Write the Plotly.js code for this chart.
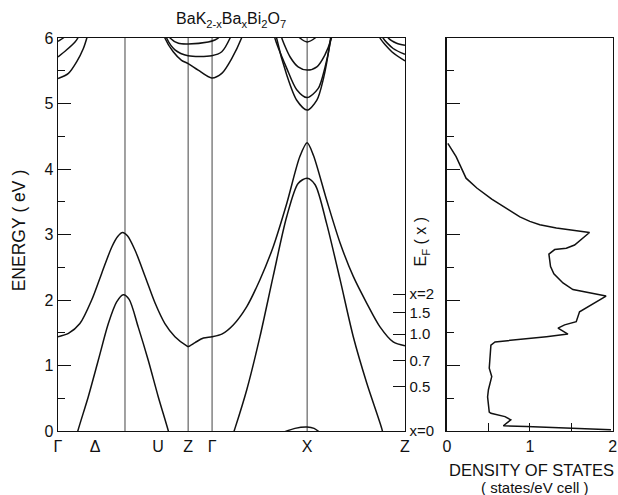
<!DOCTYPE html>
<html>
<head>
<meta charset="utf-8">
<script src="https://cdn.plot.ly/plotly-3.0.1.min.js"></script>
<style>html,body{margin:0;padding:0;background:#fff}#chart{width:618px;height:495px}</style>
</head>
<body>
<div id="chart"></div>
<script>
// ---- data (k in units of the Γ..Z path, 0..1; energies in eV) ----
const symLabels = ['Γ', 'Δ', 'U', 'Z', 'Γ', 'X', 'Z'];
const symLabelK = [0, 0.107, 0.288, 0.375, 0.444, 0.718, 1.0];
const symLinesK = [0.193, 0.375, 0.444, 0.718];

const bandA_k = [0, 0.030, 0.063, 0.097, 0.126, 0.155, 0.172, 0.186, 0.200, 0.222, 0.251, 0.280, 0.308, 0.337, 0.371, 0.375, 0.395, 0.419, 0.444, 0.472, 0.505, 0.544, 0.582, 0.620, 0.659, 0.697, 0.718, 0.736, 0.774, 0.813, 0.851, 0.890, 0.928, 0.966, 1.0];
const bandA_E = [1.44, 1.49, 1.64, 2.00, 2.41, 2.81, 2.97, 3.03, 2.98, 2.76, 2.36, 1.95, 1.64, 1.44, 1.30, 1.29, 1.35, 1.42, 1.44, 1.48, 1.62, 1.90, 2.31, 2.81, 3.47, 4.19, 4.40, 4.21, 3.53, 2.87, 2.36, 1.95, 1.59, 1.36, 1.30];

const bandB_k = [0.045, 0.057, 0.087, 0.116, 0.145, 0.169, 0.188, 0.205, 0.231, 0.260, 0.289, 0.318, 0.330];
const bandB_E = [-0.25, 0.0, 0.52, 1.08, 1.64, 1.97, 2.08, 2.01, 1.59, 1.08, 0.52, 0.0, -0.25];

const bandC_k = [0.501, 0.510, 0.544, 0.582, 0.620, 0.659, 0.692, 0.718, 0.741, 0.774, 0.813, 0.851, 0.890, 0.933, 0.939];
const bandC_E = [-0.10, 0.04, 0.63, 1.44, 2.36, 3.27, 3.78, 3.86, 3.76, 3.17, 2.31, 1.44, 0.73, 0.04, -0.10];

const bandD_k = [0.654, 0.683, 0.718, 0.738, 0.752];
const bandD_E = [-0.01, 0.04, 0.06, 0.04, -0.01];

// conduction bands near the top of the window
const upper = [
  {k: [0, 0.030, 0.054, 0.073, 0.083, 0.088], E: [5.38, 5.46, 5.64, 5.84, 6.0, 6.1]},
  {k: [0, 0.025, 0.049, 0.057, 0.061], E: [5.71, 5.82, 5.94, 6.0, 6.06]},
  {k: [0, 0.015, 0.022], E: [5.95, 6.0, 6.04]},
  {k: [0.303, 0.308, 0.332, 0.356, 0.375, 0.404, 0.443, 0.472, 0.501, 0.529, 0.534], E: [6.1, 6.0, 5.79, 5.66, 5.61, 5.51, 5.39, 5.46, 5.69, 6.0, 6.08]},
  {k: [0.309, 0.313, 0.337, 0.375, 0.443, 0.472, 0.496, 0.500], E: [6.08, 6.0, 5.82, 5.73, 5.73, 5.79, 6.0, 6.06]},
  {k: [0.318, 0.323, 0.347, 0.375, 0.433, 0.452, 0.462, 0.466], E: [6.05, 6.0, 5.92, 5.91, 5.94, 5.97, 6.0, 6.03]},
  {k: [0.627, 0.630, 0.659, 0.688, 0.718, 0.746, 0.765, 0.784, 0.787], E: [6.1, 6.0, 5.44, 5.05, 4.90, 5.05, 5.38, 5.94, 6.08]},
  {k: [0.622, 0.625, 0.659, 0.688, 0.718, 0.750, 0.769, 0.786, 0.789], E: [6.1, 6.0, 5.54, 5.21, 5.09, 5.23, 5.54, 5.97, 6.1]},
  {k: [0.642, 0.645, 0.669, 0.692, 0.718, 0.746, 0.769, 0.788, 0.791], E: [6.08, 6.0, 5.71, 5.56, 5.51, 5.56, 5.74, 6.0, 6.08]},
  {k: [0.692, 0.697, 0.718, 0.741, 0.746], E: [6.03, 6.0, 5.94, 6.0, 6.03]},
  {k: [0.924, 0.928, 0.962, 1.0], E: [6.08, 6.0, 5.79, 5.65]},
  {k: [0.933, 0.937, 0.966, 1.0], E: [6.08, 6.0, 5.84, 5.75]},
  {k: [0.948, 0.952, 0.976, 1.0], E: [6.05, 6.0, 5.92, 5.89]}
];

// density of states (states/eV cell) vs energy
const dosE = [4.39, 4.19, 3.86, 3.71, 3.54, 3.40, 3.27, 3.20, 3.15, 3.10, 3.07, 3.03, 2.84, 2.79, 2.77, 2.70, 2.51, 2.40, 2.26, 2.16, 2.06, 1.82, 1.67, 1.62, 1.57, 1.48, 1.44, 1.36, 1.31, 1.03, 0.96, 0.83, 0.63, 0.52, 0.29, 0.27, 0.22, 0.17, 0.08, 0.07, 0.04, 0.02];
const dosV = [0.01, 0.11, 0.23, 0.36, 0.54, 0.72, 0.88, 1.00, 1.12, 1.32, 1.52, 1.72, 1.54, 1.44, 1.30, 1.23, 1.25, 1.29, 1.40, 1.52, 1.92, 1.60, 1.56, 1.42, 1.34, 1.46, 1.20, 0.58, 0.53, 0.52, 0.51, 0.54, 0.50, 0.49, 0.51, 0.53, 0.70, 0.77, 0.68, 0.96, 1.52, 1.98];

// Fermi level for filling x
const efLabels = ['x=0', '0.5', '0.7', '1.0', '1.5', 'x=2'];
const efEnergy = [0, 0.68, 1.07, 1.48, 1.81, 2.09];

// ---- plot ----
const FONT = 'Liberation Sans, Arial, Helvetica, sans-serif';
const bandLine = {color: '#111', width: 1.5, shape: 'spline', smoothing: 0.8};
const traces = [];
function band(k, E) {
  traces.push({x: k, y: E, xaxis: 'x', yaxis: 'y', mode: 'lines', line: bandLine, hoverinfo: 'skip', showlegend: false});
}
band(bandA_k, bandA_E);
band(bandB_k, bandB_E);
band(bandC_k, bandC_E);
band(bandD_k, bandD_E);
upper.forEach(b => band(b.k, b.E));
traces.push({x: dosV, y: dosE, xaxis: 'x2', yaxis: 'y3', mode: 'lines', line: {color: '#111', width: 1.5}, hoverinfo: 'skip', showlegend: false});
// invisible trace to activate the right-hand E_F(x) axis
traces.push({x: [0], y: [0], xaxis: 'x', yaxis: 'y2', mode: 'markers', marker: {opacity: 0}, hoverinfo: 'skip', showlegend: false});

const shapes = symLinesK.map(k => ({type: 'line', xref: 'x', yref: 'y', x0: k, x1: k, y0: 0, y1: 6, line: {color: '#444', width: 1}, layer: 'below'}));

const axLine = {showline: true, linecolor: '#111', linewidth: 1.5, showgrid: false, zeroline: false};
const layout = {
  width: 618, height: 495,
  margin: {l: 0, r: 0, t: 0, b: 0},
  paper_bgcolor: '#fff', plot_bgcolor: '#fff',
  font: {family: FONT, color: '#111', size: 15},
  title: {text: 'BaK<sub>2-x</sub>Ba<sub>x</sub>Bi<sub>2</sub>O<sub>7</sub>', x: 0.374, xanchor: 'center', y: 0.962, yanchor: 'middle', font: {size: 16, family: FONT}},
  xaxis: Object.assign({}, axLine, {domain: [0.0939, 0.6553], range: [0, 1], mirror: true, tickmode: 'array', tickvals: symLabelK, ticktext: symLabels, ticks: '', tickfont: {size: 16}}),
  yaxis: Object.assign({}, axLine, {domain: [0.1293, 0.9232], range: [0, 6], anchor: 'x', mirror: true, tickmode: 'linear', tick0: 0, dtick: 1, ticks: 'inside', ticklen: 13, tickwidth: 1, tickcolor: '#111', tickfont: {size: 16}, minor: {tickmode: 'linear', tick0: 0, dtick: 0.5, ticks: 'inside', ticklen: 7, tickwidth: 1, tickcolor: '#111', showgrid: false}}),
  yaxis2: Object.assign({}, axLine, {overlaying: 'y', anchor: 'x', side: 'right', range: [0, 6], tickmode: 'array', tickvals: efEnergy, ticktext: efLabels, ticks: 'inside', ticklen: 12, tickwidth: 1, tickcolor: '#111', tickfont: {size: 15}}),
  xaxis2: Object.assign({}, axLine, {domain: [0.7233, 0.9914], range: [0, 2], anchor: 'y3', mirror: true, tickmode: 'array', tickvals: [0, 0.5, 1, 1.5, 2], ticktext: ['0', '', '1', '', '2'], ticks: 'inside', ticklen: 8, tickwidth: 1, tickcolor: '#111', tickfont: {size: 16}}),
  yaxis3: Object.assign({}, axLine, {domain: [0.1293, 0.9232], range: [0, 6], anchor: 'x2', mirror: true, showticklabels: false, tickmode: 'linear', tick0: 0, dtick: 1, ticks: 'inside', ticklen: 13, tickwidth: 1, tickcolor: '#111', minor: {tickmode: 'linear', tick0: 0, dtick: 0.5, ticks: 'inside', ticklen: 7, tickwidth: 1, tickcolor: '#111', showgrid: false}}),
  shapes: shapes,
  annotations: [
    {text: 'ENERGY\u00a0( eV\u00a0)', xref: 'paper', yref: 'paper', x: 0.031, y: 0.535, textangle: -90, showarrow: false, font: {size: 17.5, family: FONT}, xanchor: 'center', yanchor: 'middle'},
    {text: 'E<sub>F</sub> ( x )', xref: 'paper', yref: 'paper', x: 0.682, y: 0.513, textangle: -90, showarrow: false, font: {size: 16, family: FONT}, xanchor: 'center', yanchor: 'middle'},
    {text: 'DENSITY OF STATES', xref: 'paper', yref: 'paper', x: 0.860, y: 0.050, showarrow: false, font: {size: 16.5, family: FONT}, xanchor: 'center', yanchor: 'middle'},
    {text: '( states/eV cell )', xref: 'paper', yref: 'paper', x: 0.866, y: 0.016, showarrow: false, font: {size: 15, family: FONT}, xanchor: 'center', yanchor: 'middle'}
  ]
};
Plotly.newPlot('chart', traces, layout, {staticPlot: true, displayModeBar: false});
</script>
</body>
</html>
